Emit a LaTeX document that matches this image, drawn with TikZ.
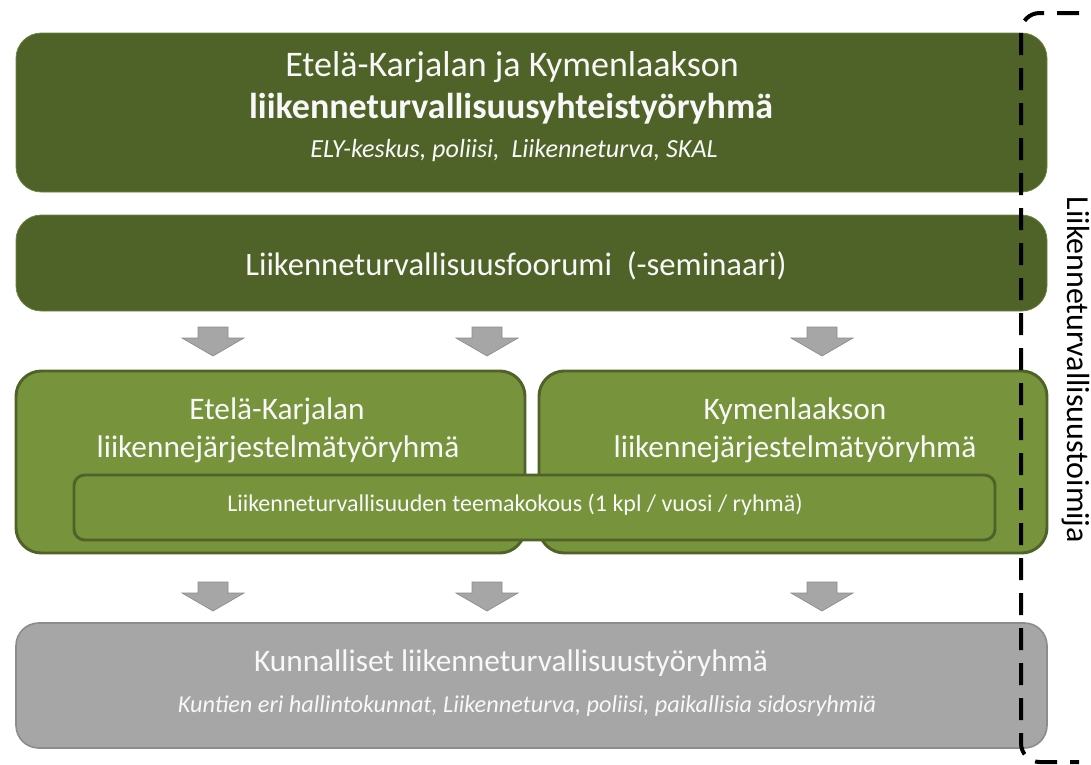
\documentclass[tikz,border=0pt]{standalone}
\usepackage{fontspec}
\setmainfont{Carlito}
\usetikzlibrary{fit}
\definecolor{dkgreen}{HTML}{4F6228}
\definecolor{dkedge}{HTML}{6E8540}
\definecolor{ltgreen}{HTML}{77933C}
\definecolor{ltedge}{HTML}{4F6228}
\definecolor{greyfill}{HTML}{A6A6A6}
\definecolor{greyedge}{HTML}{8C8C8C}
\definecolor{txtwhite}{HTML}{F8F8F8}
\newcommand{\fsz}[1]{\fontsize{#1}{#1}\selectfont}
\tikzset{
  darkbox/.style={fill=dkgreen, draw=dkedge, line width=0.6pt, rounded corners=19pt, inner sep=0pt},
  greenbox/.style={fill=ltgreen, draw=ltedge, line width=2.2pt, rounded corners=19pt, inner sep=0pt},
  innerbox/.style={fill=ltgreen, draw=ltedge, line width=2.2pt, rounded corners=8pt, inner sep=0pt},
  greybox/.style={fill=greyfill, draw=greyedge, line width=1.2pt, rounded corners=17pt, inner sep=0pt},
  wtext/.style={text=txtwhite, inner sep=0pt, anchor=base},
  bracket/.style={line width=3pt, dash pattern=on 16.5pt off 9.75pt, rounded corners=14pt},
  downarrow/.pic={\fill[greyfill, draw=greyedge, line width=0.5pt] (-15,0) -- (15,0) -- (15,11) -- (31,11) -- (0,29) -- (-31,11) -- (-15,11) -- cycle;}
}
\begin{document}
\begin{tikzpicture}[x=0.75pt,y=-0.75pt]
\useasboundingbox (0,0) rectangle (1091,764);
\fill[white] (0,0) rectangle (1091,764);

% top box
\node[darkbox, fit={(16,33) (1047,192)}] (top) {};
\node[wtext, font=\fsz{27}] (t1) at (512,76) {Etelä-Karjalan ja Kymenlaakson};
\node[wtext, font=\fsz{27}\bfseries] (t2) at (511,118) {liikenneturvallisuusyhteistyöryhmä};
\node[wtext, font=\fsz{19.6}\itshape] (t3) at (514,157) {ELY-keskus, poliisi,\ \ Liikenneturva, SKAL};

% forum box
\node[darkbox, fit={(16,215) (1047,311)}] (forum) {};
\node[wtext, font=\fsz{24.5}] (f1) at (516,275) {Liikenneturvallisuusfoorumi\ \ (-seminaari)};

% arrows row 1
\pic at (213,327) {downarrow};
\pic at (487,327) {downarrow};
\pic at (822,327) {downarrow};

% green boxes
\node[greenbox, fit={(16,371) (525,553)}] (left) {};
\node[greenbox, fit={(539,371) (1047,553)}] (right) {};
\node[wtext, font=\fsz{23.5}] (l1) at (277,419) {Etelä-Karjalan};
\node[wtext, font=\fsz{23.5}] (l2) at (278,457) {liikennejärjestelmätyöryhmä};
\node[wtext, font=\fsz{23.5}] (r1) at (795,419) {Kymenlaakson};
\node[wtext, font=\fsz{23.5}] (r2) at (795,457) {liikennejärjestelmätyöryhmä};
\node[innerbox, fit={(74,475) (995,540)}] (inner) {};
\node[wtext, font=\fsz{18}] (i1) at (515,511) {Liikenneturvallisuuden teemakokous (1 kpl / vuosi / ryhmä)};

% arrows row 2
\pic at (213,582) {downarrow};
\pic at (487,582) {downarrow};
\pic at (822,582) {downarrow};

% grey box
\node[greybox, fit={(16,623) (1047,748)}] (grey) {};
\node[wtext, font=\fsz{23.5}] (g1) at (511,671) {Kunnalliset liikenneturvallisuustyöryhmä};
\node[wtext, font=\fsz{18.2}\itshape] (g2) at (527,712) {Kuntien eri hallintokunnat, Liikenneturva, poliisi, paikallisia sidosryhmiä};

% bracket
\coordinate (b1) at (1079,13);
\coordinate (b2) at (1021,13);
\coordinate (b3) at (1021,762);
\coordinate (b4) at (1079,762);
\draw[bracket] (b1) -- (b2) -- (b3) -- (b4);
\node[rotate=-90, font=\fsz{24}, inner sep=0pt] (lbl) at (1076,370) {Liikenneturvallisuustoimija};
\end{tikzpicture}
\end{document}
